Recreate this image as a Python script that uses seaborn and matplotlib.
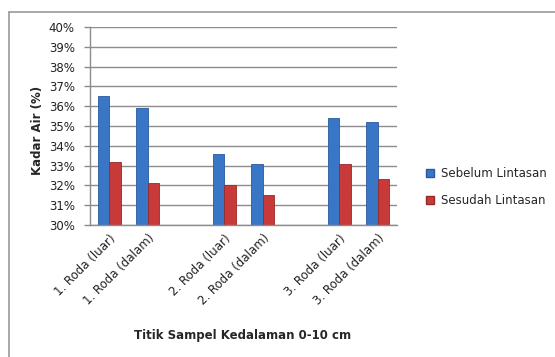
import matplotlib
matplotlib.use("Agg")
import matplotlib.pyplot as plt
import seaborn as sns
import pandas as pd
from matplotlib.lines import Line2D
from matplotlib.patches import Patch

# ----------------------------------------------------------
# Data
# ----------------------------------------------------------

categories = ["1. Roda (luar)", "1. Roda (dalam)",
              "2. Roda (luar)", "2. Roda (dalam)",
              "3. Roda (luar)", "3. Roda (dalam)"]
sebelum = [36.5, 35.9, 33.6, 33.1, 35.4, 35.2]
sesudah = [33.2, 32.1, 32.0, 31.5, 33.1, 32.3]
series = ["Sebelum Lintasan", "Sesudah Lintasan"]

# blank slots between the groups
order = ["1. Roda (luar)", "1. Roda (dalam)", " ",
         "2. Roda (luar)", "2. Roda (dalam)", "  ",
         "3. Roda (luar)", "3. Roda (dalam)"]

df = pd.DataFrame({
    "Titik": categories * 2,
    "Kadar": sebelum + sesudah,
    "Seri": [series[0]] * len(categories) + [series[1]] * len(categories),
})

colors = ["#3a76c6", "#c8393a"]
edges = ["#285a9e", "#962a28"]

# ----------------------------------------------------------
# Plot
# ----------------------------------------------------------

sns.set_style("white")
plt.rcParams["font.family"] = ["DejaVu Sans"]

fig = plt.figure(figsize=(5.55, 3.57), dpi=100)
ax = fig.add_axes([90 / 555, 1 - 225 / 357, 307 / 555, 198 / 357])

sns.barplot(
    data=df, x="Titik", y="Kadar", hue="Seri",
    order=order, hue_order=series, palette=colors, saturation=1,
    width=0.6, ax=ax, legend=False,
)

for i, cont in enumerate(ax.containers):
    for bar in cont:
        bar.set_edgecolor(edges[i])
        bar.set_linewidth(0.6)

ax.set_ylim(30, 40)
ax.set_yticks(range(30, 41))
ax.set_yticklabels([f"{v}%" for v in range(30, 41)], fontsize=8.5, color="#222222")
ax.yaxis.grid(True, color="#8c8c8c", linewidth=1.0)
ax.set_axisbelow(True)

ax.set_xticks(range(len(order)))
ax.set_xticklabels(order, rotation=45, ha="right", rotation_mode="anchor",
                   fontsize=8.5, color="#222222")
ax.tick_params(axis="x", length=0, pad=5)
ax.tick_params(axis="y", length=4, color="#8c8c8c", width=1, left=True, pad=7)

for s in ["top", "right"]:
    ax.spines[s].set_visible(False)
for s in ["left", "bottom"]:
    ax.spines[s].set_color("#8c8c8c")
    ax.spines[s].set_linewidth(1.0)

ax.set_xlabel("")
ax.set_ylabel("")
fig.text(37 / 555, 1 - 130 / 357, "Kadar Air (%)", rotation=90,
         ha="center", va="center", fontsize=8.5, fontweight="bold")
fig.text(243 / 555, 1 - 335 / 357, "Titik Sampel Kedalaman 0-10 cm",
         ha="center", va="center", fontsize=8.5, fontweight="bold")

handles = [Patch(facecolor=colors[i], edgecolor=edges[i], label=series[i])
           for i in range(2)]
fig.legend(handles=handles, loc="center left",
           bbox_to_anchor=(415 / 555, 1 - 187 / 357),
           frameon=False, fontsize=8.5, handlelength=0.7, handleheight=0.7,
           handletextpad=0.6, labelspacing=1.2)

# chart frame (left and top edges only)
fig.add_artist(Line2D([9 / 555, 9 / 555], [0, 1 - 12 / 357],
                      color="#9a9a9a", linewidth=1.2))
fig.add_artist(Line2D([9 / 555, 1], [1 - 12 / 357, 1 - 12 / 357],
                      color="#9a9a9a", linewidth=1.2))

fig.savefig("out.png", dpi=100)
plt.close()
